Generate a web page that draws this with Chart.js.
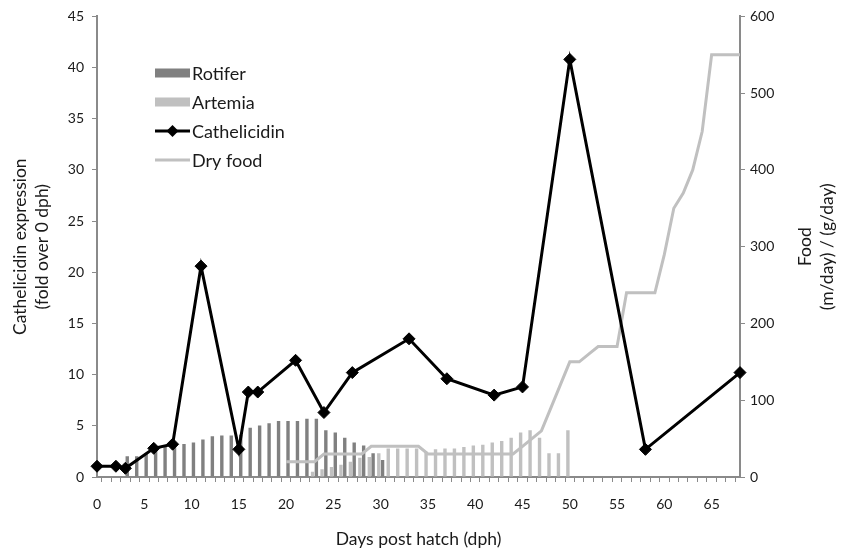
<!DOCTYPE html>
<html>
<head>
<meta charset="utf-8">
<script src="https://cdn.jsdelivr.net/npm/chart.js@4.4.1/dist/chart.umd.min.js"></script>
<style>
html, body { margin: 0; padding: 0; background: #fff; }
#wrap { width: 841px; height: 552px; }
</style>
</head>
<body>
<div id="wrap"><canvas id="FoodChart"></canvas></div>
<script>
const days = [0,1,2,3,4,5,6,7,8,9,10,11,12,13,14,15,16,17,18,19,20,21,22,23,24,25,26,27,28,29,30,
    31,32,33,34,35,36,37,38,39,40,41,42,43,44,45,46,47,48,49,50,51,52,53,54,55,56,57,58,59,60,
    61,62,63,64,65,66,67,68];

const rotifer_days = [3,4,5,6,7,8,9,10,11,12,13,14,15,16,17,18,19,20,21,22,23,24,25,26,27,28,29,30];
const rotifer_data = [27,27,31,36,39,41,43,45,49,53,54,54,55,64,67,70,73,73,73,76,76,61,58,51,45,41,31,22];

const artemia_days = [23,24,25,26,27,28,29,30,31,32,33,34,35,36,37,38,39,40,41,42,43,44,45,46,47,48,49,50];
const artemia_data = [7,10,13,16,20,25,26,31,37,37,37,37,33,36,37,37,39,41,42,45,47,51,58,61,51,31,31,61];

const dry_days = [20,21,22,23,24,25,26,27,28,29,30,31,32,33,34,35,36,37,38,39,40,41,42,43,44,
    45,46,47,48,49,50,51,52,53,54,55,56,57,58,59,60,61,62,63,64,65,66,67,68];
const dry_data = [20,20,20,20,30,30,30,30,30,40,40,40,40,40,40,30,30,30,30,30,30,30,30,30,30,
    40,50,60,90,120,150,150,160,170,170,170,240,240,240,240,290,350,370,400,450,550,550,550,550];

const cath_days = [0,2,3,6,8,11,15,16,17,21,24,27,33,37,42,45,50,58,68];
const cath_data = [1.05,1.05,0.85,2.8,3.2,20.6,2.7,8.3,8.3,11.4,6.3,10.2,13.5,9.6,8.0,8.8,40.8,2.7,10.2];

const pairs = (xs, ys) => xs.map((x, i) => ({x: x, y: ys[i]}));

const FONT = 'Lato';
const TEXT = '#1a1a1a';
const AXIS = '#8a8a8a';

// legend drawn inside the plot, top left
const insideLegend = {
    id: 'insideLegend',
    afterDraw(chart) {
        const ctx = chart.ctx;
        ctx.save();
        ctx.font = '18px ' + FONT;
        ctx.textBaseline = 'middle';
        chart.data.datasets.forEach((ds, i) => {
            const y = 73 + i * 29;
            if (ds.type === 'bar') {
                ctx.fillStyle = ds.backgroundColor;
                ctx.fillRect(155, y - 4.5, 35, 9);
            } else {
                ctx.strokeStyle = ds.borderColor;
                ctx.lineWidth = ds.borderWidth;
                ctx.beginPath();
                ctx.moveTo(155, y);
                ctx.lineTo(190, y);
                ctx.stroke();
                if (ds.pointRadius > 0) {
                    const r = ds.pointRadius;
                    ctx.fillStyle = ds.pointBackgroundColor;
                    ctx.beginPath();
                    ctx.moveTo(172.5, y - r);
                    ctx.lineTo(172.5 + r, y);
                    ctx.lineTo(172.5, y + r);
                    ctx.lineTo(172.5 - r, y);
                    ctx.closePath();
                    ctx.fill();
                }
            }
            ctx.fillStyle = TEXT;
            ctx.fillText(ds.label, 192, y + 1);
        });
        ctx.restore();
    }
};

// right axis title reads bottom-to-top like the left one
const rightTitle = {
    id: 'rightTitle',
    afterDraw(chart) {
        const ctx = chart.ctx;
        const cy = (chart.chartArea.top + chart.chartArea.bottom) / 2;
        ctx.save();
        ctx.font = '17.5px ' + FONT;
        ctx.fillStyle = TEXT;
        ctx.textAlign = 'center';
        ctx.textBaseline = 'middle';
        [['Food', 805], ['(m/day) / (g/day)', 827]].forEach(([t, x]) => {
            ctx.save();
            ctx.translate(x, cy);
            ctx.rotate(-Math.PI / 2);
            ctx.fillText(t, 0, 0);
            ctx.restore();
        });
        ctx.restore();
    }
};

const food_data = {
    labels: days,
    datasets: [{
        type: 'bar',
        label: 'Rotifer',
        data: pairs(rotifer_days, rotifer_data),
        backgroundColor: '#808080',
        yAxisID: 'y2',
        categoryPercentage: 0.8,
        barPercentage: 0.9,
        order: 3
    }, {
        type: 'bar',
        label: 'Artemia',
        data: pairs(artemia_days, artemia_data),
        backgroundColor: '#c0c0c0',
        yAxisID: 'y2',
        categoryPercentage: 0.8,
        barPercentage: 0.9,
        order: 2
    }, {
        type: 'line',
        label: 'Cathelicidin',
        data: pairs(cath_days, cath_data),
        borderColor: '#000',
        borderWidth: 3,
        pointStyle: 'rectRot',
        pointRadius: 6,
        pointBackgroundColor: '#000',
        pointBorderColor: '#000',
        pointBorderWidth: 1,
        spanGaps: true,
        tension: 0,
        yAxisID: 'y',
        order: 0
    }, {
        type: 'line',
        label: 'Dry food',
        data: pairs(dry_days, dry_data),
        borderColor: '#c0c0c0',
        borderWidth: 3,
        pointRadius: 0,
        tension: 0,
        yAxisID: 'y2',
        order: 1
    }]
};

const configFood = {
    type: 'bar',
    data: food_data,
    options: {
        responsive: true,
        maintainAspectRatio: false,
        animation: false,
        layout: { padding: { top: 14, left: 0, right: 0, bottom: 0 } },
        plugins: {
            legend: { display: false },
            tooltip: { enabled: false }
        },
        scales: {
            x: {
                type: 'category',
                offset: false,
                grid: { drawOnChartArea: false, drawTicks: true, tickLength: 5, color: AXIS },
                border: { color: AXIS, width: 2 },
                ticks: {
                    autoSkip: false,
                    maxRotation: 0,
                    padding: 14,
                    color: TEXT,
                    font: { family: FONT, size: 14 },
                    callback: function (value, index) { return index % 5 === 0 ? days[index] : ''; }
                },
                title: {
                    display: true,
                    text: 'Days post hatch (dph)',
                    color: TEXT,
                    font: { family: FONT, size: 17.5 },
                    padding: { top: 0, bottom: 2 }
                },
                afterFit: function (scale) { scale.height = 75; }
            },
            y: {
                position: 'left',
                min: 0,
                max: 45,
                grid: { drawOnChartArea: false, drawTicks: true, tickLength: 5, color: AXIS },
                border: { color: AXIS, width: 2 },
                ticks: { stepSize: 5, padding: 8, color: TEXT, font: { family: FONT, size: 14 } },
                title: {
                    display: true,
                    text: ['Cathelicidin expression', '(fold over 0 dph)'],
                    color: TEXT,
                    font: { family: FONT, size: 17.5, lineHeight: 1.28 },
                    padding: { top: 9, bottom: 0 }
                },
                afterFit: function (scale) { scale.width = 97; }
            },
            y2: {
                position: 'right',
                min: 0,
                max: 600,
                grid: { drawOnChartArea: false, drawTicks: true, tickLength: 5, color: AXIS },
                border: { color: AXIS, width: 2 },
                ticks: { stepSize: 100, padding: 5, color: TEXT, font: { family: FONT, size: 14 } },
                afterFit: function (scale) { scale.width = 101; }
            }
        }
    },
    plugins: [insideLegend, rightTitle]
};

const FoodChart = new Chart(
    document.getElementById('FoodChart'),
    configFood
);
</script>
</body>
</html>
